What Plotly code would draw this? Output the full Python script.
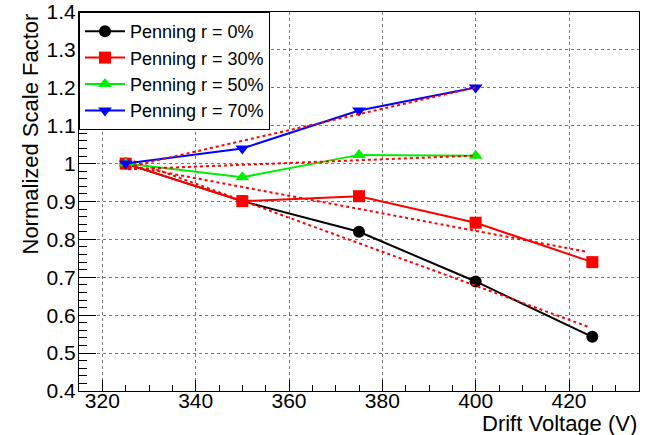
import plotly.graph_objects as go

# ---- data ----
drift_voltage = [325, 350, 375, 400, 425]
drift_voltage_short = [325, 350, 375, 400]

sf_r0 = [1.000, 0.901, 0.820, 0.689, 0.543]
sf_r30 = [1.000, 0.901, 0.914, 0.844, 0.740]
sf_r50 = [1.000, 0.964, 1.023, 1.021]
sf_r70 = [1.000, 1.040, 1.140, 1.201]

# fitted (red dotted) lines: end points
fit_x_r0 = [325.5, 424]
fit_y_r0 = [1.012, 0.570]
fit_x_r30 = [325.5, 424]
fit_y_r30 = [0.995, 0.767]
fit_x_r50 = [325.5, 400]
fit_y_r50 = [0.985, 1.021]
fit_x_r70 = [325.5, 400]
fit_y_r70 = [0.991, 1.201]

labels = ["Penning r = 0%", "Penning r = 30%", "Penning r = 50%", "Penning r = 70%"]
colors = ["#000000", "#ff0000", "#00ee00", "#0000ff"]
symbols = ["circle", "square", "triangle-up", "triangle-down"]

x_ticks = [320, 340, 360, 380, 400, 420]
y_ticks = [0.4, 0.5, 0.6, 0.7, 0.8, 0.9, 1.0, 1.1, 1.2, 1.3, 1.4]
y_ticktext = ["0.4", "0.5", "0.6", "0.7", "0.8", "0.9", "1", "1.1", "1.2", "1.3", "1.4"]

FONT = "Liberation Sans, Arial, Helvetica, sans-serif"

series = [
    (drift_voltage, sf_r0, fit_x_r0, fit_y_r0),
    (drift_voltage, sf_r30, fit_x_r30, fit_y_r30),
    (drift_voltage_short, sf_r50, fit_x_r50, fit_y_r50),
    (drift_voltage_short, sf_r70, fit_x_r70, fit_y_r70),
]

fig = go.Figure()
for i, (xs, ys, fx, fy) in enumerate(series):
    fig.add_trace(go.Scatter(
        x=xs, y=ys, mode="lines+markers", name=labels[i],
        line=dict(color=colors[i], width=2),
        marker=dict(symbol=symbols[i], size=12, color=colors[i]),
    ))
    fig.add_trace(go.Scatter(
        x=fx, y=fy, mode="lines", showlegend=False,
        line=dict(color="#ff0000", width=2, dash="dot"),
        hoverinfo="skip",
    ))

fig.update_layout(
    width=655, height=435,
    margin=dict(l=79, r=16, t=12, b=44, autoexpand=False),
    paper_bgcolor="white", plot_bgcolor="white",
    font=dict(family=FONT, size=20, color="black"),
    showlegend=True,
    legend=dict(
        x=0, y=1, xanchor="left", yanchor="top",
        bgcolor="white", bordercolor="black", borderwidth=1,
        font=dict(family=FONT, size=18, color="black"),
        itemwidth=40,
    ),
    xaxis=dict(
        range=[315, 435], tickvals=x_ticks, automargin=False,
        ticks="inside", ticklen=11, tickcolor="black", tickwidth=1,
        minor=dict(dtick=5, tick0=320, ticks="inside", ticklen=6, tickcolor="black"),
        showline=True, linecolor="black", linewidth=1, mirror=True,
        showgrid=True, gridcolor="#777777", griddash="dot", gridwidth=1,
        zeroline=False, ticklabelstandoff=-9,
        tickfont=dict(family=FONT, size=21),
    ),
    yaxis=dict(
        range=[0.4, 1.4], tickvals=y_ticks, ticktext=y_ticktext, automargin=False,
        ticks="inside", ticklen=17, tickcolor="black", tickwidth=1,
        minor=dict(dtick=0.02, tick0=0.4, ticks="inside", ticklen=8, tickcolor="black"),
        showline=True, linecolor="black", linewidth=1, mirror=True,
        showgrid=True, gridcolor="#777777", griddash="dot", gridwidth=1,
        zeroline=False, ticklabeloverflow="allow", ticklabelstandoff=-2,
        tickfont=dict(family=FONT, size=21),
    ),
    annotations=[
        dict(text="Drift Voltage (V)", xref="paper", yref="paper",
             x=1.0, y=-0.086, xanchor="right", yanchor="middle",
             showarrow=False, font=dict(family=FONT, size=22)),
        dict(text="Normalized Scale Factor", xref="paper", yref="paper",
             x=-0.0875, y=1.0, xanchor="center", yanchor="top", textangle=-90,
             showarrow=False, font=dict(family=FONT, size=22)),
    ],
)

fig.write_html("out.html", config={"displayModeBar": False},
               post_script="document.body.style.margin='0';")
